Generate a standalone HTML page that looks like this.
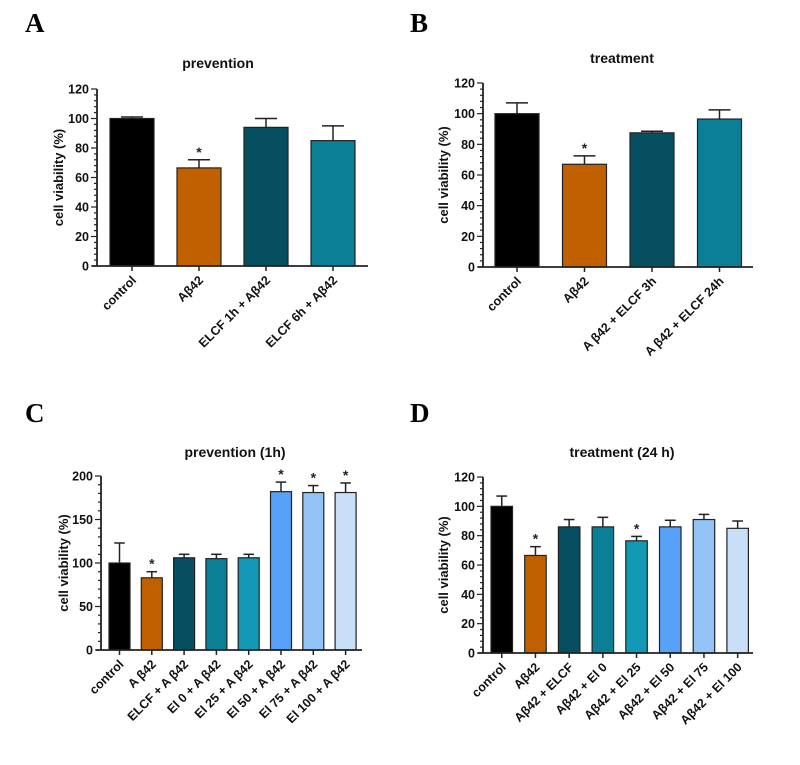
<!DOCTYPE html>
<html><head><meta charset="utf-8"><style>
body{margin:0;background:#fff;}
svg{display:block;font-family:"Liberation Sans",Arial,sans-serif;}
.pl{font-family:"Liberation Serif",serif;font-weight:bold;font-size:27px;}
.tk{font-size:12.5px;font-weight:bold;fill:#111;}
.yt{font-size:12.5px;font-weight:bold;fill:#111;}
.ti{font-size:14px;font-weight:bold;fill:#111;}
.yl{font-size:13px;font-weight:bold;fill:#111;}
</style></head><body>
<svg id="fig" width="800" height="765" viewBox="0 0 800 765">
<text class="pl" x="25" y="32">A</text>
<text class="pl" x="410" y="32">B</text>
<text class="pl" x="25" y="422">C</text>
<text class="pl" x="410" y="422">D</text>
</svg>
<script>
const catsA=["control","Aβ42","ELCF 1h + Aβ42","ELCF 6h + Aβ42"];
const valsA=[100,66.5,94,85];
const errA=[1,5.5,6,10];
const starA=[false,true,false,false];
const catsB=["control","Aβ42","A β42 + ELCF 3h","A β42 + ELCF 24h"];
const valsB=[100,67,87.5,96.5];
const errB=[7,5.5,1,6];
const starB=[false,true,false,false];
const catsC=["control","A β42","ELCF + A β42","El 0 + A β42","El 25 + A β42","El 50 + A β42","El 75 + A β42","El 100 + A β42"];
const valsC=[100,83,106,105,106,182,181,181];
const errC=[23,7,4,5,4,11,8,11];
const starC=[false,true,false,false,false,true,true,true];
const catsD=["control","Aβ42","Aβ42 + ELCF","Aβ42 + El 0","Aβ42 + El 25","Aβ42 + El 50","Aβ42 + El 75","Aβ42 + El 100"];
const valsD=[100,66.5,86,86,76.5,86,91,85];
const errD=[7,6,5,6.5,3,4.5,3.5,5];
const starD=[false,true,false,false,true,false,false,false];
const ticks120=[0,20,40,60,80,100,120];
const ticks200=[0,50,100,150,200];
const colors4=["#000000","#c06000","#064f60","#0a7f96"];
const colors8=["#000000","#c06000","#064f60","#0a7f96","#1398b5","#57a2f8","#94c3f8","#c9def7"];

const NS="http://www.w3.org/2000/svg";
const svg=document.getElementById('fig');
function mk(tag,attrs,parent){const e=document.createElementNS(NS,tag);for(const k in attrs)e.setAttribute(k,attrs[k]);(parent||svg).appendChild(e);return e;}

function panel(p){
  const g=mk('g',{});
  
  
  const ymax=p.ticks[p.ticks.length-1];
  const y=v=>p.y0-(v/ymax)*(p.y0-p.y1);
  const xc=i=>p.xStart+p.bw/2+i*p.step;
  const t=mk('text',{x:p.tx,y:p.ty,'text-anchor':'middle',class:'ti'},g);t.textContent=p.title;
  
  
  const yl=mk('text',{x:0,y:0,'text-anchor':'middle',class:'yl',transform:`translate(${p.ylx},${(p.y0+p.y1)/2}) rotate(-90)`},g);yl.textContent="cell viability (%)";
  
  
  p.vals.forEach((v,i)=>{
    const x=xc(i);
    const top=y(v+p.err[i]);
    const el=mk('line',{x1:x,x2:x,y1:y(v),y2:top,stroke:'#222','stroke-width':1.5},g);
    
    
    const cap=mk('line',{x1:x-p.bw*0.25,x2:x+p.bw*0.25,y1:top,y2:top,stroke:'#222','stroke-width':1.5},g);
    
    
    const r=mk('rect',{x:x-p.bw/2,y:y(v),width:p.bw,height:p.y0-y(v),fill:p.colors[i],stroke:'#222','stroke-width':1.2},g);
    
    
    if(p.star[i]){const s=mk('text',{x:x,y:top-3,'text-anchor':'middle','font-size':'14px','font-weight':'bold',fill:'#222'},g);s.textContent='*';
      
      }
    const tk=mk('line',{x1:x,x2:x,y1:p.y0,y2:p.y0+5,stroke:'#222','stroke-width':1.5},g);
    
    
    const lb=mk('text',{x:0,y:0,'text-anchor':'end',class:'tk',transform:`translate(${x+5},${p.y0+15}) rotate(-45)`},g);lb.textContent=p.cats[i];
    
    
  });
  const ya=mk('line',{x1:p.ax,x2:p.ax,y1:p.y0,y2:p.y1,stroke:'#222','stroke-width':1.8},g);
  
  
  const xa=mk('line',{x1:p.ax-5,x2:p.axEnd,y1:p.y0,y2:p.y0,stroke:'#222','stroke-width':1.8},g);
  
  
  for(let v=0;v<=ymax+1e-6;v+=p.minor){
    const major=p.ticks.includes(v);
    mk('line',{x1:p.ax-(major?6:3),x2:p.ax,y1:y(v),y2:y(v),stroke:'#222','stroke-width':1.2},g);
  }
  p.ticks.forEach(v=>{
    const tl=mk('text',{x:p.ax-8,y:y(v)+4.5,'text-anchor':'end',class:'yt'},g);tl.textContent=v;
    
    
  });
}
panel({name:'chart-a',title:'prevention',tx:218,ty:68,ylx:63,cats:catsA,vals:valsA,err:errA,star:starA,colors:colors4,ticks:ticks120,minor:4,
  ax:97,axEnd:368,y0:266,y1:89,xStart:110,bw:44,step:67});
panel({name:'chart-b',title:'treatment',tx:622,ty:63,ylx:448,cats:catsB,vals:valsB,err:errB,star:starB,colors:colors4,ticks:ticks120,minor:4,
  ax:483,axEnd:753,y0:267,y1:83,xStart:495,bw:44,step:67.5});
panel({name:'chart-c',title:'prevention (1h)',tx:235,ty:457,ylx:68,cats:catsC,vals:valsC,err:errC,star:starC,colors:colors8,ticks:ticks200,minor:10,
  ax:101,axEnd:362,y0:650,y1:476,xStart:109,bw:21,step:32.3});
panel({name:'chart-d',title:'treatment (24 h)',tx:622,ty:457,ylx:448,cats:catsD,vals:valsD,err:errD,star:starD,colors:colors8,ticks:ticks120,minor:4,
  ax:483,axEnd:753,y0:653,y1:477,xStart:491,bw:21.5,step:33.7});
</script>
</body></html>
